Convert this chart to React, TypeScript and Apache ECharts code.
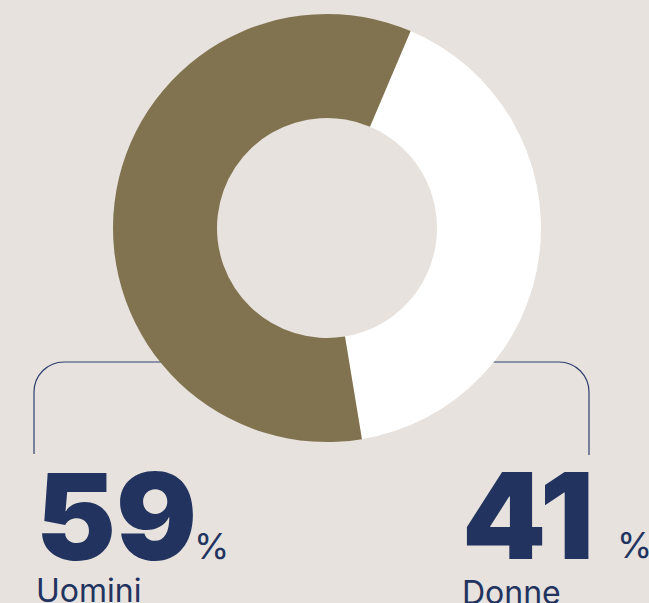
import React, { useEffect, useRef } from "react";
import * as echarts from "echarts";

const categories = ["Donne", "Uomini"];
const values = [41, 59];
const colors = ["#ffffff", "#827350"];

const NAVY = "#22335f";
const BG = "#e7e2dd";

export default function App() {
  const ref = useRef<HTMLDivElement>(null);
  useEffect(() => {
    document.body.style.margin = "0";
    const chart = echarts.init(ref.current!, null, { renderer: "svg" });
    const lineStyle = { stroke: "#2f3f6e", lineWidth: 1.2, fill: "none" };
    const bigFont = "900 120px Inter";
    const smallFont = "400 32px Inter";
    const pctFont = "400 36px Inter";
    const mid = "middle";
    chart.setOption({
      animation: false,
      backgroundColor: BG,
      series: [
        {
          type: "pie",
          center: [327, 228],
          radius: [110, 214],
          startAngle: 67,
          clockwise: true,
          label: { show: false },
          labelLine: { show: false },
          silent: true,
          itemStyle: { borderWidth: 0 },
          data: categories.map((c, i) => ({
            name: c,
            value: values[i],
            itemStyle: { color: colors[i] },
          })),
        },
      ],
      graphic: [
        // left bracket (Uomini)
        { type: "line", shape: { x1: 188, y1: 362, x2: 64, y2: 362 }, style: lineStyle },
        { type: "arc", shape: { cx: 64, cy: 392, r: 30, startAngle: Math.PI, endAngle: Math.PI * 1.5, clockwise: true }, style: lineStyle },
        { type: "line", shape: { x1: 34, y1: 392, x2: 34, y2: 454 }, style: lineStyle },
        // right bracket (Donne)
        { type: "line", shape: { x1: 435, y1: 362, x2: 559, y2: 362 }, style: lineStyle },
        { type: "arc", shape: { cx: 559, cy: 392, r: 30, startAngle: -Math.PI / 2, endAngle: 0, clockwise: true }, style: lineStyle },
        { type: "line", shape: { x1: 589, y1: 392, x2: 589, y2: 455 }, style: lineStyle },
        // Uomini
        { type: "text", x: 36, y: 516, style: { text: String(values[1]), font: bigFont, fill: NAVY, verticalAlign: mid } },
        { type: "text", x: 194, y: 546, style: { text: "%", font: pctFont, fill: NAVY, verticalAlign: mid } },
        { type: "text", x: 36, y: 590, style: { text: categories[1], font: smallFont, fill: NAVY, verticalAlign: mid } },
        // Donne
        { type: "text", x: 462, y: 515, style: { text: String(values[0]), font: bigFont, fill: NAVY, verticalAlign: mid } },
        { type: "text", x: 617, y: 545, style: { text: "%", font: pctFont, fill: NAVY, verticalAlign: mid } },
        { type: "text", x: 462, y: 592, style: { text: categories[0], font: smallFont, fill: NAVY, verticalAlign: mid } },
      ],
    });
    return () => chart.dispose();
  }, []);
  return <div ref={ref} style={{ width: 649, height: 603 }} />;
}
